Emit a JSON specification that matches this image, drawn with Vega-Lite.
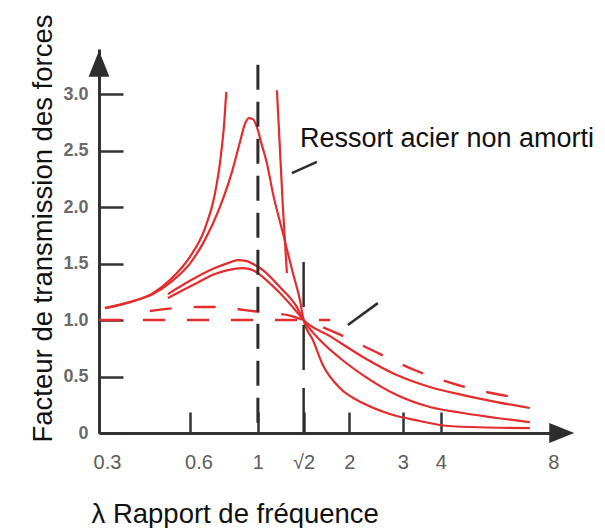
{
  "$schema": "https://vega.github.io/schema/vega-lite/v6.json",
  "width": 456,
  "height": 384,
  "autosize": {"type": "none"},
  "padding": {"left": 99, "top": 49, "right": 50, "bottom": 95},
  "background": "white",
  "config": {"view": {"stroke": null}, "axis": {"grid": false}},
  "datasets": {
    "curves": [
      {"c": "U1", "x": 0.3138, "y": 1.106}, {"c": "U1", "x": 0.3792, "y": 1.159}, {"c": "U1", "x": 0.4514, "y": 1.238},
      {"c": "U1", "x": 0.5134, "y": 1.355}, {"c": "U1", "x": 0.5974, "y": 1.56}, {"c": "U1", "x": 0.6693, "y": 1.81},
      {"c": "U1", "x": 0.72, "y": 2.1}, {"c": "U1", "x": 0.755, "y": 2.45}, {"c": "U1", "x": 0.775, "y": 2.75},
      {"c": "U1", "x": 0.787, "y": 3.02},
      {"c": "U2", "x": 1.155, "y": 3.035}, {"c": "U2", "x": 1.181, "y": 2.531}, {"c": "U2", "x": 1.2085, "y": 2.0}, {"c": "U2", "x": 1.2457, "y": 1.416},
      {"c": "P", "x": 0.3138, "y": 1.106}, {"c": "P", "x": 0.3792, "y": 1.159}, {"c": "P", "x": 0.4514, "y": 1.23},
      {"c": "P", "x": 0.5134, "y": 1.33}, {"c": "P", "x": 0.5974, "y": 1.5}, {"c": "P", "x": 0.6693, "y": 1.71},
      {"c": "P", "x": 0.7498, "y": 2.0}, {"c": "P", "x": 0.8212, "y": 2.31}, {"c": "P", "x": 0.8725, "y": 2.575},
      {"c": "P", "x": 0.9062, "y": 2.735}, {"c": "P", "x": 0.9341, "y": 2.788}, {"c": "P", "x": 0.9628, "y": 2.779},
      {"c": "P", "x": 0.9924, "y": 2.708}, {"c": "P", "x": 1.0308, "y": 2.549}, {"c": "P", "x": 1.0706, "y": 2.389},
      {"c": "P", "x": 1.1203, "y": 2.124}, {"c": "P", "x": 1.2085, "y": 1.77}, {"c": "P", "x": 1.3037, "y": 1.416},
      {"c": "P", "x": 1.3746, "y": 1.177}, {"c": "P", "x": 1.4142, "y": 1.0}, {"c": "P", "x": 1.517, "y": 0.823},
      {"c": "P", "x": 1.636, "y": 0.602}, {"c": "P", "x": 1.861, "y": 0.398}, {"c": "P", "x": 2.2155, "y": 0.265},
      {"c": "P", "x": 2.718, "y": 0.168}, {"c": "P", "x": 3.412, "y": 0.106}, {"c": "P", "x": 3.97, "y": 0.071},
      {"c": "P", "x": 4.983, "y": 0.053}, {"c": "P", "x": 7.851, "y": 0.044},
      {"c": "Q1", "x": 0.5057, "y": 1.23}, {"c": "Q1", "x": 0.6205, "y": 1.372}, {"c": "Q1", "x": 0.722, "y": 1.46},
      {"c": "Q1", "x": 0.7967, "y": 1.504}, {"c": "Q1", "x": 0.8594, "y": 1.531}, {"c": "Q1", "x": 0.92, "y": 1.522},
      {"c": "Q1", "x": 0.9775, "y": 1.487}, {"c": "Q1", "x": 1.0386, "y": 1.442}, {"c": "Q1", "x": 1.1814, "y": 1.292},
      {"c": "Q1", "x": 1.3438, "y": 1.115}, {"c": "Q1", "x": 1.4142, "y": 1.0}, {"c": "Q1", "x": 1.5995, "y": 0.823},
      {"c": "Q1", "x": 1.861, "y": 0.664}, {"c": "Q1", "x": 2.2155, "y": 0.513}, {"c": "Q1", "x": 2.866, "y": 0.336},
      {"c": "Q1", "x": 3.68, "y": 0.23}, {"c": "Q1", "x": 4.726, "y": 0.177}, {"c": "Q1", "x": 6.114, "y": 0.133},
      {"c": "Q1", "x": 7.851, "y": 0.097},
      {"c": "Q2", "x": 0.5057, "y": 1.195}, {"c": "Q2", "x": 0.6205, "y": 1.319}, {"c": "Q2", "x": 0.722, "y": 1.407},
      {"c": "Q2", "x": 0.7967, "y": 1.442}, {"c": "Q2", "x": 0.8858, "y": 1.46}, {"c": "Q2", "x": 0.9412, "y": 1.451},
      {"c": "Q2", "x": 1.0, "y": 1.416}, {"c": "Q2", "x": 1.0386, "y": 1.381}, {"c": "Q2", "x": 1.1814, "y": 1.239},
      {"c": "Q2", "x": 1.3438, "y": 1.071}, {"c": "Q2", "x": 1.4142, "y": 1.0}, {"c": "Q2", "x": 1.7254, "y": 0.858},
      {"c": "Q2", "x": 2.2155, "y": 0.673}, {"c": "Q2", "x": 2.866, "y": 0.513}, {"c": "Q2", "x": 3.68, "y": 0.407},
      {"c": "Q2", "x": 4.726, "y": 0.336}, {"c": "Q2", "x": 6.114, "y": 0.274}, {"c": "Q2", "x": 7.851, "y": 0.221}
    ],
    "dashed": [
      {"c": "H", "x": 0.3, "y": 1.0}, {"c": "H", "x": 1.73, "y": 1.0},
      {"c": "D", "x": 0.441, "y": 1.08}, {"c": "D", "x": 0.6205, "y": 1.115}, {"c": "D", "x": 0.7498, "y": 1.115},
      {"c": "D", "x": 0.9062, "y": 1.088}, {"c": "D", "x": 1.095, "y": 1.062}, {"c": "D", "x": 1.274, "y": 1.04},
      {"c": "D", "x": 1.4142, "y": 1.0}, {"c": "D", "x": 1.847, "y": 0.876}, {"c": "D", "x": 2.445, "y": 0.717},
      {"c": "D", "x": 3.335, "y": 0.549}, {"c": "D", "x": 4.55, "y": 0.425}, {"c": "D", "x": 6.35, "y": 0.336},
      {"c": "D", "x": 6.9, "y": 0.319}
    ],
    "v1": [{"x": 1.0, "y": 3.26, "x2": 1.0, "y2": 0}],
    "v2": [{"x": 1.4142, "y": 0, "x2": 1.4142, "y2": 1.53}],
    "leaders": [
      {"x": 1.294, "y": 2.3, "x2": 1.564, "y2": 2.4},
      {"x": 1.977, "y": 0.956, "x2": 2.482, "y2": 1.15}
    ],
    "notes": [{"x": 1.375, "y": 2.53, "t": "Ressort acier non amorti"}],
    "yarrow": [{"x": 0.3, "y": 3.27}],
    "xarrow": [{"x": 10.0, "y": 0}]
  },
  "encoding": {
    "x": {
      "field": "x", "type": "quantitative",
      "scale": {"type": "log", "domain": [0.3, 9.5], "nice": false, "zero": false},
      "axis": {
        "values": [0.3, 0.6, 1, 1.41421356, 2, 3, 4, 8],
        "labelExpr": "datum.value > 1.4 && datum.value < 1.5 ? '√2' : format(datum.value, '~g')",
        "labelFont": "Liberation Sans", "labelFontSize": 20, "labelColor": "#5c5c5c",
        "labelFlush": false, "labelOverlap": false, "labelBound": false,
        "labelOffset": {"condition": [{"test": "datum.value === 8", "value": 21}, {"test": "datum.value < 0.7", "value": 8}], "value": 0},
        "tickSize": -21, "tickWidth": 2.5, "tickColor": "#333333",
        "tickOpacity": {"condition": {"test": "datum.value === 8", "value": 0}, "value": 1},
        "labelPadding": 40,
        "domainColor": "#333333", "domainWidth": 3,
        "title": "λ Rapport de fréquence",
        "titleFont": "Liberation Sans", "titleFontSize": 27.5, "titleFontWeight": "normal", "titleColor": "#111111",
        "titleX": -8, "titleY": 89, "titleAlign": "left", "titleBaseline": "alphabetic", "titleAnchor": "start"
      }
    },
    "y": {
      "field": "y", "type": "quantitative",
      "scale": {"domain": [0, 3.4], "nice": false},
      "axis": {
        "values": [0, 0.5, 1, 1.5, 2, 2.5, 3],
        "labelExpr": "datum.value === 0 ? '0' : format(datum.value, '.1f')",
        "labelFont": "Liberation Sans", "labelFontSize": 18, "labelFontWeight": "bold", "labelColor": "#6a6a6a",
        "tickSize": -24, "tickWidth": 2.5, "tickColor": "#333333",
        "labelPadding": 35,
        "domainColor": "#333333", "domainWidth": 3,
        "title": "Facteur de transmission des forces",
        "titleFont": "Liberation Sans", "titleFontSize": 27.5, "titleFontWeight": "normal", "titleColor": "#111111",
        "titleX": -48, "titleY": 179, "titleAngle": 270, "titleAlign": "center", "titleBaseline": "alphabetic"
      }
    }
  },
  "layer": [
    {
      "data": {"name": "curves"},
      "mark": {"type": "line", "interpolate": "monotone", "color": "#e42c2f", "strokeWidth": 2.2},
      "encoding": {"detail": {"field": "c"}}
    },
    {
      "data": {"name": "dashed"},
      "mark": {"type": "line", "interpolate": "monotone", "color": "#e42c2f", "strokeWidth": 2.4, "strokeDash": [22, 22]},
      "encoding": {"detail": {"field": "c"}}
    },
    {
      "data": {"name": "v1"},
      "mark": {"type": "rule", "color": "#2d2d2d", "strokeWidth": 3, "strokeDash": [25, 12]},
      "encoding": {"x2": {"field": "x2"}, "y2": {"field": "y2"}}
    },
    {
      "data": {"name": "v2"},
      "mark": {"type": "rule", "color": "#2d2d2d", "strokeWidth": 2.5, "strokeDash": [45, 18]},
      "encoding": {"x2": {"field": "x2"}, "y2": {"field": "y2"}}
    },
    {
      "data": {"name": "leaders"},
      "mark": {"type": "rule", "color": "#2d2d2d", "strokeWidth": 2.5},
      "encoding": {"x2": {"field": "x2"}, "y2": {"field": "y2"}}
    },
    {
      "data": {"name": "notes"},
      "mark": {"type": "text", "align": "left", "baseline": "alphabetic", "font": "Liberation Sans", "fontSize": 27, "color": "#111111"},
      "encoding": {"text": {"field": "t"}}
    },
    {
      "data": {"name": "yarrow"},
      "mark": {"type": "point", "shape": "M0,-1L0.8,1L-0.8,1Z", "size": 676, "filled": true, "color": "#2d2d2d", "opacity": 1}
    },
    {
      "data": {"name": "xarrow"},
      "mark": {"type": "point", "shape": "M1,0L-1,0.8L-1,-0.8Z", "size": 625, "filled": true, "color": "#2d2d2d", "opacity": 1}
    }
  ]
}
